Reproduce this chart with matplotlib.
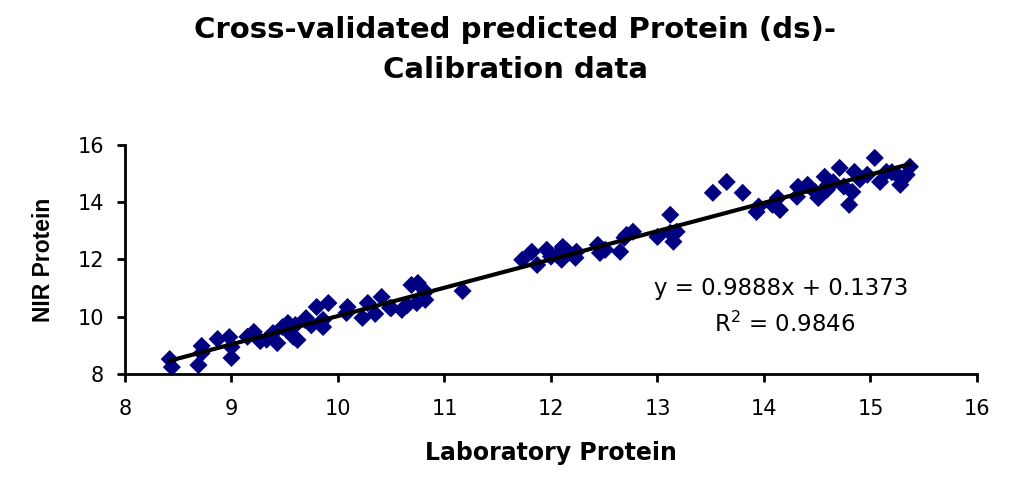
import numpy as np
import matplotlib
matplotlib.use("Agg")
import matplotlib.pyplot as plt

plt.rcParams['font.family'] = ['DejaVu Sans']

# laboratory protein (x) vs cross-validated NIR protein (y)
lab = [8.42, 8.44, 8.69, 8.72, 8.72, 8.87, 8.98, 9.00, 9.00, 9.21,
       9.27, 9.39, 9.43, 9.48, 9.53, 9.55, 9.60, 9.62, 9.69, 9.80,
       9.86, 9.91, 9.86, 10.09, 10.08, 10.23, 10.28, 10.41, 10.49, 10.60,
       10.69, 10.74, 10.82, 10.82, 10.75, 10.65, 10.35, 9.75, 9.58, 9.33,
       11.17, 11.73, 11.82, 11.87, 11.96, 12.06, 12.11, 12.10, 12.24, 12.23,
       12.44, 12.46, 12.51, 12.65, 12.69, 12.71, 12.77, 13.00, 13.12, 13.12,
       13.15, 13.18, 13.52, 13.65, 13.80, 13.93, 13.95, 14.08, 14.13, 14.15,
       14.32, 14.31, 14.41, 14.48, 14.51, 14.57, 14.59, 14.71, 14.80, 14.83,
       14.85, 14.97, 15.04, 15.09, 15.15, 15.25, 15.28, 15.34, 15.37, 14.65,
       14.75, 14.90, 15.20, 15.30, 14.60, 12.00, 12.15, 9.70, 10.50, 9.15]
nir = [8.52, 8.24, 8.31, 8.98, 8.73, 9.22, 9.29, 8.94, 8.56, 9.47,
       9.15, 9.43, 9.08, 9.64, 9.78, 9.43, 9.71, 9.19, 9.89, 10.34,
       9.89, 10.48, 9.64, 10.34, 10.13, 9.96, 10.48, 10.69, 10.31, 10.24,
       11.11, 10.48, 10.87, 10.59, 11.18, 10.40, 10.10, 9.70, 9.30, 9.20,
       10.90, 11.99, 12.27, 11.81, 12.34, 12.16, 12.44, 11.99, 12.27, 12.06,
       12.51, 12.23, 12.34, 12.27, 12.76, 12.86, 12.97, 12.79, 13.56, 12.93,
       12.62, 12.97, 14.33, 14.71, 14.33, 13.66, 13.85, 13.91, 14.15, 13.73,
       14.54, 14.19, 14.61, 14.36, 14.15, 14.89, 14.43, 15.20, 13.91, 14.36,
       15.06, 14.96, 15.55, 14.71, 15.06, 14.96, 14.61, 14.96, 15.24, 14.70,
       14.55, 14.80, 15.05, 14.80, 14.60, 12.10, 12.30, 9.95, 10.30, 9.30]

slope = 0.9888
intercept = 0.1373
r2 = 0.9846

fig = plt.figure(figsize=(10.12, 4.84), dpi=100)
ax = fig.add_axes([0.1235, 0.2273, 0.8419, 0.4731])

ax.scatter(lab, nir, marker='D', s=85, color='#000080', edgecolors='none', zorder=2)

xs = np.array([min(lab), max(lab)])
ax.plot(xs, slope * xs + intercept, color='black', lw=3, zorder=3)

ax.set_xlim(8, 16)
ax.set_ylim(8, 16)
ax.set_xticks(range(8, 17))
ax.set_yticks(range(8, 17, 2))
for s in ['top', 'right']:
    ax.spines[s].set_visible(False)
for s in ['left', 'bottom']:
    ax.spines[s].set_linewidth(2)
ax.tick_params(direction='out', length=6, width=2, labelsize=15)
ax.tick_params(axis='x', pad=12)
ax.tick_params(axis='y', pad=9)

ax.set_xlabel('Laboratory Protein', fontsize=17, fontweight='bold', labelpad=16)
ax.set_ylabel('NIR Protein', fontsize=16.5, fontweight='bold', labelpad=16,
              family='Liberation Sans')

ax.text(14.16, 10.97, 'y = %.4fx + %.4f' % (slope, intercept), fontsize=16.5,
        ha='center', va='center')
ax.text(14.19, 9.75, '$\\mathregular{R^2}$ = %.4f' % r2, fontsize=16.5,
        ha='center', va='center')

fig.text(0.509, 0.937, 'Cross-validated predicted Protein (ds)-', fontsize=21,
         fontweight='bold', ha='center', va='center')
fig.text(0.509, 0.855, 'Calibration data', fontsize=21,
         fontweight='bold', ha='center', va='center')

fig.savefig('out.png', dpi=100)
